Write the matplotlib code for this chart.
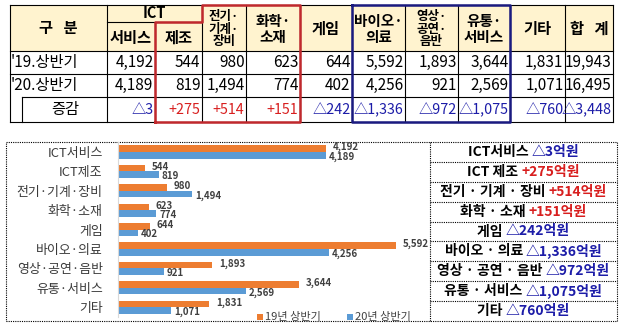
import matplotlib
matplotlib.use('Agg')
import matplotlib.pyplot as plt
from matplotlib.patches import Rectangle
import numpy as np

plt.rcParams['font.family'] = ['Noto Sans CJK KR', 'DejaVu Sans']

W, H = 623, 329

# ---- data ----
table_cols = ['서비스', '제조', '전기·\n기계·\n장비', '화학·\n소재', '게임', '바이오·\n의료',
              '영상·\n공연·\n음반', '유통·\n서비스', '기타', '합   계']
row_labels = ["'19.상반기", "'20.상반기"]
vals_19 = [4192, 544, 980, 623, 644, 5592, 1893, 3644, 1831, 19943]
vals_20 = [4189, 819, 1494, 774, 402, 4256, 921, 2569, 1071, 16495]
diff_txt = ['△3', '+275', '+514', '+151', '△242', '△1,336', '△972', '△1,075', '△760', '△3,448']

categories = ['ICT서비스', 'ICT제조', '전기·기계·장비', '화학·소재', '게임',
              '바이오·의료', '영상·공연·음반', '유통·서비스', '기타']
h1_19 = vals_19[:9]
h1_20 = vals_20[:9]
panel_names = ['ICT서비스', 'ICT 제조', '전기 · 기계 · 장비', '화학 · 소재', '게임',
               '바이오 · 의료', '영상 · 공연 · 음반', '유통 · 서비스', '기타']
panel_diff = ['△3억원', '+275억원', '+514억원', '+151억원', '△242억원',
              '△1,336억원', '△972억원', '△1,075억원', '△760억원']

ORANGE = '#ED7D31'
BLUE = '#5B9BD5'
RED = '#D81E1E'
NAVY = '#1C1CA8'

fig = plt.figure(figsize=(W / 100, H / 100), dpi=100)
bg = fig.add_axes([0, 0, 1, 1])
bg.set_xlim(0, W)
bg.set_ylim(H, 0)
bg.axis('off')

# ---- table ----
xs = [10, 107, 155, 202, 246, 300, 352, 405, 458, 510, 565, 613]
y_top, y_sub, y_hdr, y_r1, y_r2, y_bot = 5, 22, 51, 74, 97, 122

bg.add_patch(Rectangle((xs[0], y_top), xs[-1] - xs[0], y_hdr - y_top,
                       facecolor='#FFF3CF', edgecolor='none', zorder=0))
lk = dict(color='black', lw=0.8, zorder=2)
for y in (y_top, y_hdr, y_r1, y_bot):
    bg.plot([xs[0], xs[-1]], [y, y], **lk)
bg.plot([22, xs[-1]], [y_r2, y_r2], **lk)
bg.plot([22, 22], [y_r2, y_bot], **lk)
bg.plot([xs[1], xs[3]], [y_sub, y_sub], **lk)
for i, x in enumerate(xs):
    top = y_sub if i == 2 else y_top
    bg.plot([x, x], [top, y_bot], **lk)

# header text
bg.text((xs[0] + xs[1]) / 2, (y_top + y_hdr) / 2, '구   분', ha='center', va='center',
        fontsize=11, fontweight='bold')
bg.text((xs[1] + xs[3]) / 2, (y_top + y_sub) / 2, 'ICT', ha='center', va='center',
        fontsize=10.5, fontweight='bold')
for i, name in enumerate(table_cols):
    cx = (xs[i + 1] + xs[i + 2]) / 2
    cy = (y_sub + y_hdr) / 2 + 1 if i < 2 else (y_top + y_hdr) / 2 + 1
    n = name.count('\n')
    fs = 11 if n == 0 else (10.5 if n == 1 else 9)
    bg.text(cx, cy, name, ha='center', va='center', fontsize=fs, fontweight='bold',
            linespacing=0.95 if n == 1 else 0.92)

# body
bg.text(xs[0] + 1, (y_hdr + y_r1) / 2, row_labels[0], ha='left', va='center', fontsize=11)
bg.text(xs[0] + 1, (y_r1 + y_r2) / 2, row_labels[1], ha='left', va='center', fontsize=11)
bg.text(65, (y_r2 + y_bot) / 2, '증감', ha='center', va='center', fontsize=11)
for i in range(10):
    xr = xs[i + 2] - 1.5
    bg.text(xr, (y_hdr + y_r1) / 2, f'{vals_19[i]:,}', ha='right', va='center', fontsize=11)
    bg.text(xr, (y_r1 + y_r2) / 2, f'{vals_20[i]:,}', ha='right', va='center', fontsize=11)
    c = RED if diff_txt[i].startswith('+') else NAVY
    bg.text(xr, (y_r2 + y_bot) / 2, diff_txt[i], ha='right', va='center', fontsize=10.3, color=c)

# highlight boxes
bg.plot([xs[2], xs[2], xs[3], xs[3], xs[5], xs[5], xs[2]],
        [y_bot, y_sub, y_sub, y_top, y_top, y_bot, y_bot], color='#C0282D', lw=1.8, zorder=3)
bg.plot([xs[6], xs[9], xs[9], xs[6], xs[6]],
        [y_top, y_top, y_bot, y_bot, y_top], color='#1A1A80', lw=1.8, zorder=3)

# ---- chart box + side panel ----
bx0, bx1, by0, by1 = 6, 430, 142, 321
px1 = 617
dot = dict(color='black', lw=0.8, ls=(0, (1, 1)), zorder=2)
bg.plot([bx0, px1, px1, bx0, bx0], [by0, by0, by1, by1, by0], **dot)
bg.plot([bx1, bx1], [by0, by1], **dot)
rh = (by1 - by0) / 9
for k in range(1, 9):
    bg.plot([bx1, px1], [by0 + k * rh, by0 + k * rh], **dot)
fig.canvas.draw()
r = fig.canvas.get_renderer()
for k in range(9):
    cy = by0 + (k + 0.5) * rh
    c = RED if panel_diff[k].startswith('+') else NAVY
    t1 = bg.text(0, cy, panel_names[k] + ' ', ha='left', va='center', fontsize=10,
                 fontweight='bold', color='black')
    t2 = bg.text(0, cy, panel_diff[k], ha='left', va='center', fontsize=10,
                 fontweight='bold', color=c)
    w1 = t1.get_window_extent(r).width
    w2 = t2.get_window_extent(r).width
    x0 = (bx1 + px1) / 2 - (w1 + w2) / 2
    t1.set_x(x0)
    t2.set_x(x0 + w1)

# ---- bar chart ----
ax_l, ax_r = 118, 416
cy0, step = 152, 19.4
ax_t = cy0 - step / 2
ax_b = ax_t + 9 * step
ax = fig.add_axes([ax_l / W, 1 - ax_b / H, (ax_r - ax_l) / W, (ax_b - ax_t) / H])
ax.patch.set_alpha(0)
y = np.arange(len(categories))
bh = 0.34
ax.barh(y - bh / 2, h1_19, height=bh, color=ORANGE)
ax.barh(y + bh / 2, h1_20, height=bh, color=BLUE)
ax.set_xlim(0, 6000)
ax.set_ylim(len(categories) - 0.5, -0.5)
for s in ('top', 'right', 'bottom'):
    ax.spines[s].set_visible(False)
ax.spines['left'].set_color('#D9D9D9')
ax.set_xticks([])
ax.set_yticks(y)
ax.set_yticklabels(categories, fontsize=9.3, color='#3A3A3A')
ax.tick_params(axis='y', length=0, pad=11)
for i in range(len(categories)):
    ax.annotate(f'{h1_19[i]:,}', (h1_19[i], i - bh / 2), xytext=(5, 1),
                textcoords='offset points', ha='left', va='center', fontsize=7,
                fontweight='bold', color='#404040')
    ax.annotate(f'{h1_20[i]:,}', (h1_20[i], i + bh / 2), xytext=(2, -1),
                textcoords='offset points', ha='left', va='center', fontsize=7,
                fontweight='bold', color='#404040')

# legend
bg.add_patch(Rectangle((257, 314), 6, 6, facecolor=ORANGE, edgecolor='none'))
bg.text(265, 317, '19년 상반기', color='#404040', fontsize=8, ha='left', va='center')
bg.add_patch(Rectangle((347, 314), 6, 6, facecolor=BLUE, edgecolor='none'))
bg.text(355, 317, '20년 상반기', color='#404040', fontsize=8, ha='left', va='center')

fig.savefig('out.png', dpi=100)
